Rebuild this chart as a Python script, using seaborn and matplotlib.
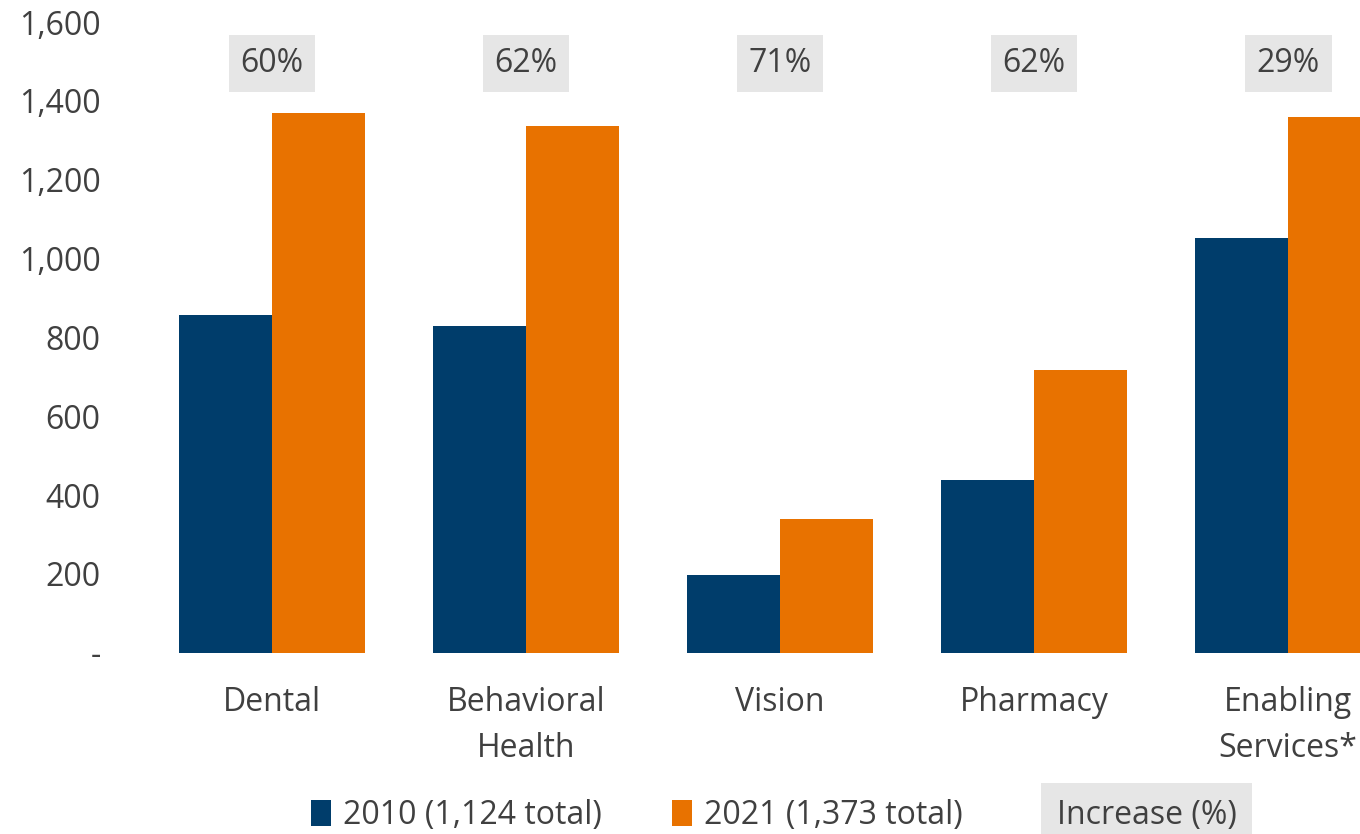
import matplotlib.pyplot as plt
import matplotlib.patches as mpatches
import matplotlib.ticker as mticker
import pandas as pd
import seaborn as sns

categories = ["Dental", "Behavioral\nHealth", "Vision", "Pharmacy", "Enabling\nServices*"]
values_2010 = [856, 828, 198, 439, 1052]
values_2021 = [1370, 1337, 340, 716, 1360]
increase_labels = ["60%", "62%", "71%", "62%", "29%"]
series_names = ["2010 (1,124 total)", "2021 (1,373 total)"]
colors = ["#003D6B", "#E87200"]
text_color = "#404040"

df = pd.DataFrame({
    "category": categories * 2,
    "series": [series_names[0]] * 5 + [series_names[1]] * 5,
    "value": values_2010 + values_2021,
})

sns.set_style("white")
plt.rcParams["font.family"] = ["Open Sans", "DejaVu Sans"]

fig = plt.figure(figsize=(13.6, 8.34), dpi=100)
ax = fig.add_axes([0.1066, 0.2174, 0.8934, 0.7562])

sns.barplot(data=df, x="category", y="value", hue="series", palette=colors,
            width=0.73, errorbar=None, saturation=1, linewidth=0, ax=ax, legend=False)

ax.set_xlim(-0.5, 4.283)
ax.set_ylim(0, 1600)
ax.yaxis.set_major_locator(mticker.MultipleLocator(200))
ax.yaxis.set_major_formatter(mticker.FuncFormatter(lambda v, p: "-" if v == 0 else f"{v:,.0f}"))
ax.tick_params(axis="y", length=0, pad=32, labelsize=23, labelcolor=text_color)
ax.tick_params(axis="x", length=0, pad=24, labelsize=23, labelcolor=text_color)
for lbl in ax.get_xticklabels():
    lbl.set_linespacing(1.5)
ax.set_xlabel("")
ax.set_ylabel("")
for s in ax.spines.values():
    s.set_visible(False)
ax.grid(False)

for i, lab in enumerate(increase_labels):
    ax.text(i, 1494, lab, ha="center", va="center", fontsize=23, color=text_color,
            bbox=dict(boxstyle="square,pad=0.37", facecolor="#E6E6E6", edgecolor="none"))

handles = [mpatches.Patch(facecolor=c, edgecolor="none") for c in colors]
fig.legend(handles, series_names, loc="center", bbox_to_anchor=(0.468, 0.022), ncol=2,
           frameon=False, fontsize=23, labelcolor=text_color, handlelength=0.65,
           handleheight=0.85, handletextpad=0.35, columnspacing=2.2)
fig.text(0.843, 0.022, "Increase (%)", ha="center", va="center", fontsize=23, color=text_color,
         bbox=dict(boxstyle="square,pad=0.5", facecolor="#E6E6E6", edgecolor="none"))

fig.savefig("out.png", dpi=100)
